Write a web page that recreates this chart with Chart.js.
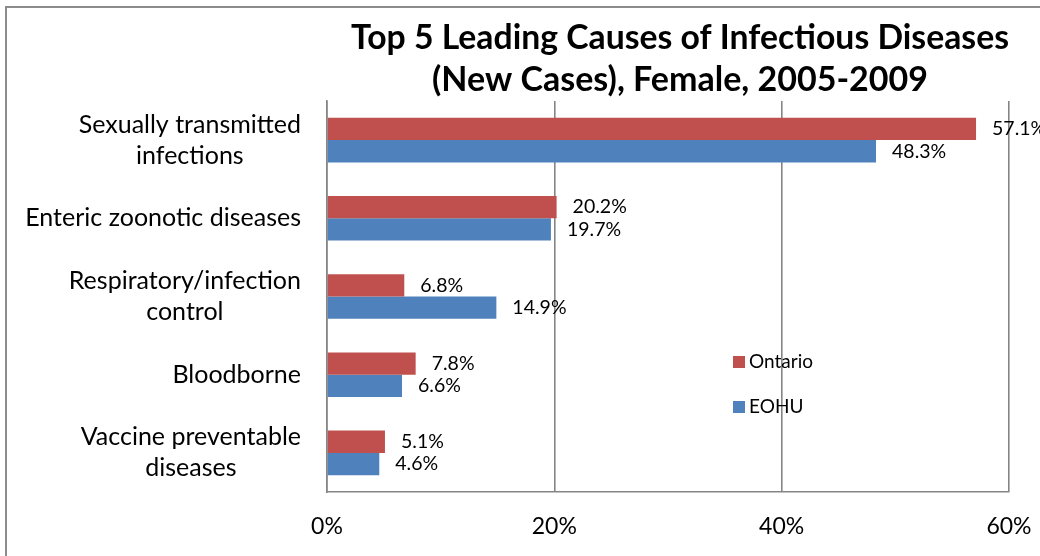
<!DOCTYPE html>
<html>
<head>
<meta charset="utf-8">
<script src="https://cdn.jsdelivr.net/npm/chart.js@4/dist/chart.umd.min.js"></script>
<style>
  html, body { margin: 0; padding: 0; background: #fff; overflow: hidden; }
  #frame { position: absolute; left: 5px; top: 6px; width: 1100px; height: 620px; border: 2px solid #8c8c8c; }
  #chart { position: absolute; left: 0; top: 0; }
</style>
</head>
<body>
<div id="frame"></div>
<canvas id="chart" width="1040" height="556"></canvas>
<script>
const titleLines = ["Top 5 Leading Causes of Infectious Diseases", "(New Cases), Female, 2005-2009"];
const categories = [
    ["Sexually transmitted", "infections"],
    ["Enteric zoonotic diseases"],
    ["Respiratory/infection", "control"],
    ["Bloodborne"],
    ["Vaccine preventable", "diseases"]
];
const ontario = [57.1, 20.2, 6.8, 7.8, 5.1];
const eohu = [48.3, 19.7, 14.9, 6.6, 4.6];
const xTicks = [0, 20, 40, 60];

const FONT = "Lato, 'Open Sans', sans-serif";
const RED = '#C0504D';
const BLUE = '#4F81BD';
const GRID = '#858585';

// category labels: lines centred on each other, block right-aligned to the axis
const categoryLabels = {
    id: 'categoryLabels',
    afterDraw(chart) {
        const ctx = chart.ctx;
        const y = chart.scales.y;
        const right = chart.chartArea.left - 26;
        ctx.save();
        ctx.font = "25px " + FONT;
        ctx.fillStyle = '#000';
        ctx.textAlign = 'center';
        ctx.textBaseline = 'middle';
        chart.data.labels.forEach((lines, i) => {
            const cy = y.getPixelForValue(i);
            const w = Math.max(...lines.map(l => ctx.measureText(l).width));
            const cx = right - w / 2;
            lines.forEach((l, j) => {
                ctx.fillText(l, cx, cy + (j - (lines.length - 1) / 2) * 31);
            });
        });
        ctx.restore();
    }
};

const barValues = {
    id: 'barValues',
    afterDatasetsDraw(chart) {
        const ctx = chart.ctx;
        ctx.save();
        ctx.font = "19.5px " + FONT;
        ctx.fillStyle = '#000';
        ctx.textAlign = 'left';
        ctx.textBaseline = 'middle';
        chart.data.datasets.forEach((ds, di) => {
            chart.getDatasetMeta(di).data.forEach((bar, i) => {
                ctx.fillText(ds.data[i].toFixed(1) + '%', bar.x + 16, bar.y);
            });
        });
        ctx.restore();
    }
};

const innerLegend = {
    id: 'innerLegend',
    afterDraw(chart) {
        const ctx = chart.ctx;
        ctx.save();
        ctx.font = "19px " + FONT;
        ctx.textBaseline = 'middle';
        ctx.textAlign = 'left';
        chart.data.datasets.forEach((ds, i) => {
            const cy = 362 + i * 45;
            ctx.fillStyle = ds.backgroundColor;
            ctx.fillRect(733, cy - 6, 12, 12);
            ctx.fillStyle = '#000';
            ctx.fillText(ds.label, 749, cy);
        });
        ctx.restore();
    }
};

// nudge the title to sit where the original had it
const titleShift = {
    id: 'titleShift',
    afterLayout(chart) {
        if (chart.titleBlock) chart.titleBlock.left += 24;
    }
};

new Chart(document.getElementById('chart').getContext('2d'), {
    type: 'bar',
    data: {
        labels: categories,
        datasets: [
            { label: 'Ontario', data: ontario, backgroundColor: RED, barPercentage: 1, categoryPercentage: 0.57 },
            { label: 'EOHU', data: eohu, backgroundColor: BLUE, barPercentage: 1, categoryPercentage: 0.57 }
        ]
    },
    options: {
        indexAxis: 'y',
        responsive: false,
        animation: false,
        devicePixelRatio: 1,
        layout: { padding: { left: 0, right: 31, top: 17, bottom: 0 } },
        plugins: {
            legend: { display: false },
            tooltip: { enabled: false },
            title: {
                display: true,
                fullSize: false,
                text: titleLines,
                color: '#000',
                font: { family: FONT, size: 34, weight: 'bold', lineHeight: 42 / 34 },
                padding: { top: 0, bottom: 0 }
            }
        },
        scales: {
            x: {
                min: 0,
                max: 60,
                afterBuildTicks: s => { s.ticks = xTicks.map(v => ({ value: v })); },
                afterFit: s => { s.height = 64; s.paddingLeft = 0; s.paddingRight = 0; },
                ticks: {
                    callback: v => v + '%',
                    color: '#000',
                    font: { family: FONT, size: 23 },
                    padding: 21,
                    maxRotation: 0
                },
                grid: { color: GRID, lineWidth: 1.6, drawTicks: false },
                border: { display: true, color: GRID, width: 1.6 }
            },
            y: {
                ticks: { display: false },
                grid: { display: false, drawTicks: false },
                border: { display: true, color: GRID, width: 1.6 },
                afterFit: s => { s.width = 327; }
            }
        }
    },
    plugins: [categoryLabels, barValues, innerLegend, titleShift]
});
</script>
</body>
</html>
